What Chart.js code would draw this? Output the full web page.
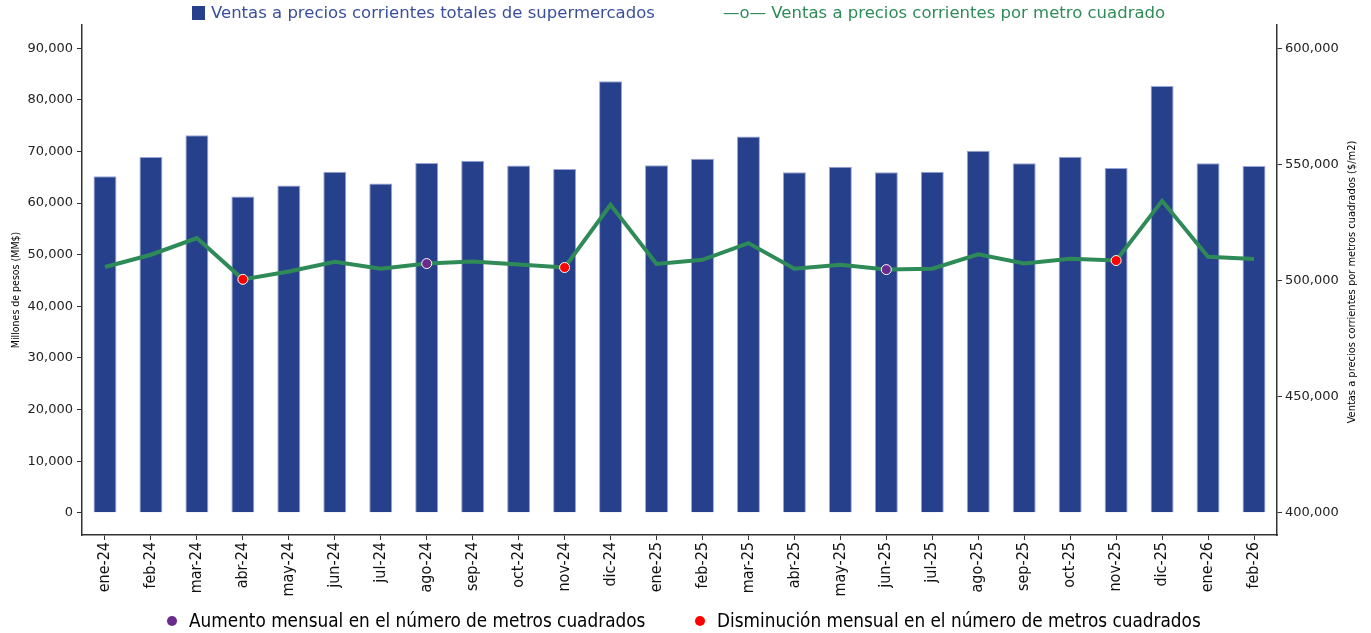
<!DOCTYPE html>
<html>
<head>
<meta charset="utf-8">
<script src="https://cdn.jsdelivr.net/npm/chart.js@4.4.1/dist/chart.umd.min.js"></script>
<style>
  html, body { margin:0; padding:0; background:#fff; }
  #wrap { position:relative; width:1371px; height:633px; overflow:hidden; }
  canvas { position:absolute; left:0; top:0; }
  .leg { position:absolute; white-space:nowrap; }
  .top { font-family:"DejaVu Sans", sans-serif; font-size:16.5px; top:3px; line-height:20px; }
  .sq { display:inline-block; width:13px; height:14px; background:#27408b; vertical-align:-2px; margin-right:6px; }
  .bot { font-family:"DejaVu Sans Condensed","Liberation Sans Narrow",sans-serif; font-size:18.8px; color:#000; top:610px; line-height:22px; }
  .dot { display:inline-block; width:10px; height:10px; border-radius:50%; margin-right:12px; vertical-align:1px; }
</style>
</head>
<body>
<div id="wrap">
  <canvas id="c" width="1371" height="633"></canvas>
  <div class="leg top" style="left:192px;color:#3a4f9c;"><span class="sq"></span>Ventas a precios corrientes totales de supermercados</div>
  <div class="leg top" style="left:723px;color:#2e8b57;">—o— Ventas a precios corrientes por metro cuadrado</div>
  <div class="leg bot" style="left:167px;"><span class="dot" style="background:#6a2a8e;"></span>Aumento mensual en el número de metros cuadrados</div>
  <div class="leg bot" style="left:695px;"><span class="dot" style="background:#ff0000;"></span>Disminución mensual en el número de metros cuadrados</div>
</div>
<script>
const categories = ["ene-24","feb-24","mar-24","abr-24","may-24","jun-24","jul-24","ago-24","sep-24","oct-24","nov-24","dic-24",
  "ene-25","feb-25","mar-25","abr-25","may-25","jun-25","jul-25","ago-25","sep-25","oct-25","nov-25","dic-25","ene-26","feb-26"];

// Ventas totales (millones de pesos)
const ventasTotales = [65200, 68950, 73150, 61300, 63400, 66050, 63800, 67750, 68200, 67300, 66600, 83600,
  67350, 68600, 72900, 65950, 67050, 65950, 66050, 70150, 67700, 69000, 66800, 82700, 67700, 67200];

// Ventas por metro cuadrado ($/m2)
const ventasM2 = [505800, 511100, 518300, 500500, 503900, 508100, 505100, 507300, 508200, 506900, 505600, 532600,
  507100, 508900, 516100, 505100, 506800, 504700, 505100, 511300, 507300, 509400, 508600, 534300, 510200, 509300];

// Cambio mensual en metros cuadrados: 1 = aumento, -1 = disminución, 0 = sin marcador
const cambioM2 = [0,0,0,-1,0,0,0,1,0,0,-1,0, 0,0,0,0,0,1,0,0,0,0,-1,0,0,0];

const leftTicks = [0,10000,20000,30000,40000,50000,60000,70000,80000,90000];
const rightTicks = [400000,450000,500000,550000,600000];

const leftTitle = 'Millones de pesos (MM$)';
const rightTitle = 'Ventas a precios corrientes por metros cuadrados ($/m2)';

const LEFT_MIN = -4300, LEFT_MAX = 94500;
const RIGHT_MIN = 400000 + LEFT_MIN * 200000 / 90000;
const RIGHT_MAX = 400000 + LEFT_MAX * 200000 / 90000;

const fmt = v => v.toLocaleString('en-US');
const axisColor = '#333333';
const condensed = '"DejaVu Sans Condensed","Liberation Sans Narrow",sans-serif';

const axisTitles = {
  id: 'axisTitles',
  afterDraw(chart) {
    const ctx = chart.ctx;
    const area = chart.chartArea;
    ctx.save();
    ctx.fillStyle = '#000';
    ctx.textAlign = 'center';
    ctx.textBaseline = 'middle';
    // left title
    ctx.save();
    ctx.translate(16, 290);
    ctx.rotate(-Math.PI / 2);
    ctx.font = '10.5px ' + condensed;
    ctx.fillText(leftTitle, 0, 0);
    ctx.restore();
    // right title
    ctx.save();
    ctx.translate(1352, 282);
    ctx.rotate(-Math.PI / 2);
    ctx.font = '11px ' + condensed;
    ctx.fillText(rightTitle, 0, 0);
    ctx.restore();
    ctx.restore();
  }
};

new Chart(document.getElementById('c'), {
  type: 'bar',
  data: {
    labels: categories,
    datasets: [
      {
        type: 'line',
        label: 'Ventas a precios corrientes por metro cuadrado',
        data: ventasM2,
        yAxisID: 'y1',
        borderColor: '#2e8b57',
        borderWidth: 4,
        tension: 0,
        fill: false,
        pointRadius: cambioM2.map(c => c === 0 ? 0 : 5),
        pointHoverRadius: cambioM2.map(c => c === 0 ? 0 : 5),
        pointBackgroundColor: cambioM2.map(c => c > 0 ? '#6a2a8e' : '#ff0000'),
        pointBorderColor: '#ffffff',
        pointBorderWidth: 1,
        order: 0
      },
      {
        type: 'bar',
        label: 'Ventas a precios corrientes totales de supermercados',
        data: ventasTotales,
        yAxisID: 'y',
        backgroundColor: '#27408b',
        borderColor: '#9aa6d6',
        borderWidth: 1,
        barPercentage: 0.5,
        categoryPercentage: 1.0,
        order: 1
      }
    ]
  },
  plugins: [axisTitles],
  options: {
    responsive: false,
    animation: false,
    layout: { padding: { top: 25, left: 0, right: 0, bottom: 28 } },
    plugins: { legend: { display: false }, tooltip: { enabled: false } },
    scales: {
      x: {
        offset: true,
        grid: { drawOnChartArea: false, drawTicks: true, tickLength: 5, offset: false, color: axisColor },
        border: { display: true, color: axisColor, width: 1.5 },
        ticks: {
          autoSkip: false, minRotation: 90, maxRotation: 90, padding: 2,
          color: '#111', font: { family: condensed, size: 16 }
        },
        afterFit: s => { s.height = 70; }
      },
      y: {
        position: 'left',
        min: LEFT_MIN, max: LEFT_MAX,
        afterBuildTicks: s => { s.ticks = leftTicks.map(v => ({ value: v })); },
        grid: { drawOnChartArea: false, drawTicks: true, tickLength: 5, color: axisColor },
        border: { display: true, color: axisColor, width: 1.5 },
        ticks: { padding: 4, color: '#222', font: { family: '"DejaVu Sans",sans-serif', size: 13 }, callback: v => fmt(v) },
        afterFit: s => { s.width = 82; }
      },
      y1: {
        position: 'right',
        min: RIGHT_MIN, max: RIGHT_MAX,
        afterBuildTicks: s => { s.ticks = rightTicks.map(v => ({ value: v })); },
        grid: { drawOnChartArea: false, drawTicks: true, tickLength: 5, color: axisColor },
        border: { display: true, color: axisColor, width: 1.5 },
        ticks: { padding: 3, color: '#222', font: { family: '"DejaVu Sans",sans-serif', size: 13 }, callback: v => fmt(v) },
        afterFit: s => { s.width = 94; }
      }
    }
  }
});
</script>
</body>
</html>
